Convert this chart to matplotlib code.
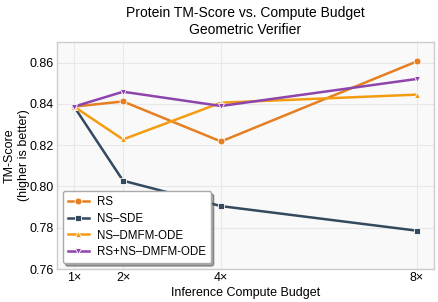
import matplotlib
matplotlib.use("Agg")
import matplotlib.pyplot as plt

plt.rcParams['font.family'] = ['Liberation Sans', 'DejaVu Sans']

budgets = [1, 2, 4, 8]
budget_labels = ["1×", "2×", "4×", "8×"]

rs = [0.8387, 0.8412, 0.8218, 0.8606]
ns_sde = [0.8387, 0.8028, 0.7905, 0.7786]
ns_dmfm_ode = [0.8387, 0.8228, 0.8406, 0.8445]
rs_ns_dmfm_ode = [0.8387, 0.8459, 0.8390, 0.8521]

series = [
    ("RS", rs, "#e67e22", "o"),
    ("NS–SDE", ns_sde, "#34495e", "s"),
    ("NS–DMFM-ODE", ns_dmfm_ode, "#f39c12", "^"),
    ("RS+NS–DMFM-ODE", rs_ns_dmfm_ode, "#8e44ad", "v"),
]

fig = plt.figure(figsize=(4.38, 3.02), dpi=100)
ax = fig.add_axes([0.130, 0.109, 0.861, 0.752])
ax.set_facecolor("#f9f9f9")

for name, vals, color, marker in series:
    ax.plot(budgets, vals, color=color, marker=marker, lw=1.8, ms=5,
            mec="white", mew=0.6, label=name)

ax.set_ylim(0.76, 0.87)
ax.set_yticks([0.76, 0.78, 0.80, 0.82, 0.84, 0.86])
ax.set_xticks(budgets)
ax.set_xticklabels(budget_labels)
ax.tick_params(axis="x", length=0, labelsize=9, pad=2)
ax.tick_params(axis="y", length=0, labelsize=9, pad=2.5)
ax.grid(True, color="#e8e8e8", lw=0.8)
for s in ax.spines.values():
    s.set_color("#cccccc")
    s.set_linewidth(1.0)

ax.set_xlabel("Inference Compute Budget", fontsize=9, labelpad=2)
ax.set_ylabel("TM-Score\n(higher is better)", fontsize=9)
ax.yaxis.set_label_coords(-0.072, 0.5)
ax.set_title("Protein TM-Score vs. Compute Budget\nGeometric Verifier", fontsize=10, pad=6)

leg = ax.legend(loc="lower left", fontsize=8.3, frameon=True, fancybox=True, shadow=True,
                borderpad=0.45, labelspacing=0.4, handlelength=1.8, handletextpad=0.7)
leg.get_frame().set_facecolor("white")
leg.get_frame().set_edgecolor("#aaaaaa")

fig.savefig("out.png", dpi=100)
